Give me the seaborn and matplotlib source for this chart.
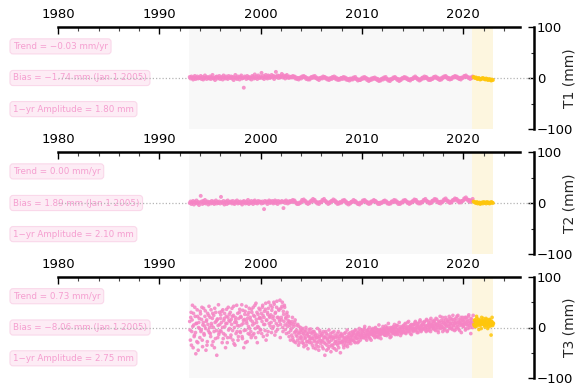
import numpy as np
import pandas as pd
import matplotlib
matplotlib.use("Agg")
import matplotlib.pyplot as plt
from matplotlib.ticker import FixedLocator
import seaborn as sns

# ---------------------------------------------------------------------------
# Data: anomaly samples (mm) for three tide-gauge comparisons
# ---------------------------------------------------------------------------
series_names = ["T1", "T2", "T3"]
trends = [-0.03, 0.00, 0.73]          # mm/yr
biases = [-1.74, 1.89, -8.06]         # mm at Jan 1 2005
amplitudes = [1.80, 2.10, 2.75]       # 1-yr amplitude, mm

start_year = 1993.0
new_mission_year = 2021.0             # samples from here on are the new mission

t1_per_year = 12
t1_values = [
    2, -1, 3, 0, -3, 1, 4, -2, 0, 3, -1, 1,
    0, 4, -2, 2, -3, 0, 5, 1, -2, 2, 0, -1,
    3, -2, 1, 6, -1, 0, -4, 2, 3, -1, 1, 4,
    -2, 0, 2, -3, 5, 1, -1, 3, 0, -2, 4, 1,
    0, 3, -1, 2, -4, 1, 6, 0, -2, 3, 1, -3,
    2, 5, -1, 0, -19, 3, 1, -2, 4, 0, 2, -1,
    1, -3, 4, 2, -1, 7, 0, 3, -2, 5, 1, 0,
    3, 10, 0, 4, -2, 2, 6, 1, -1, 5, 3, 0,
    2, 6, 1, 4, -2, 3, 12, 2, 5, 0, 4, 1,
    3, 8, 1, 5, 2, -1, 4, 6, 2, 0, 3, 1,
    2, 1, 4, 2, 3, -1, 1, -2, 0, -3, 0, 1,
    -1, 3, 2, 4, 1, 2, -2, 0, -3, -1, -3, 0,
    2, 0, 3, 1, 4, 0, 1, -2, -1, -4, 0, -1,
    1, -1, 3, 1, 2, -1, 0, -3, -1, -4, -1, 0,
    -2, 2, 0, 3, -1, 1, -3, -1, -4, -2, -3, 0,
    0, -2, 2, 0, 1, -3, -1, -4, -2, -5, -1, -3,
    -1, -3, 1, -1, 2, -2, -2, -5, -3, -4, -4, -1,
    -2, 1, -1, 2, -1, 0, -4, -2, -6, -3, -4, -1,
    -3, 0, -1, 1, -2, -1, -4, -2, -6, -4, -5, -2,
    -1, -3, 1, -1, 2, -2, -2, -5, -3, -6, -2, -3,
    -2, 1, 0, 2, -1, -1, -4, -2, -6, -3, -4, -1,
    0, -1, 2, 0, 1, -2, -1, -4, -3, -5, -2, -2,
    -2, 1, 0, 3, 0, 0, -3, -2, -5, -3, -3, 0,
    1, -1, 3, 0, 2, -1, -1, -4, -2, -4, -1, -2,
    -1, 2, 1, 3, 0, 1, -2, -1, -4, -1, -3, 1,
    0, 3, 2, 4, 1, 1, -2, 0, -3, -1, -2, 1,
    2, 1, 4, 2, 3, 0, 1, -2, 0, -3, 1, 0,
    1, 4, 3, 5, 2, 2, 0, 1, -2, 1, 0, 3,
    2, 1, 0, 1, -1, -2, 0, -1, -3, -2, -1, 0,
    -1, -2, -3, -1, -2, -4, -3, -2, -4, -5, -3, -4,
]

t2_per_year = 12
t2_values = [
    0, 3, -2, 1, 4, -3, 2, 0, 5, -1, 2, -4,
    1, 14, 3, -2, 4, 0, 6, -1, 2, 3, -3, 1,
    2, -1, 4, 0, 3, -2, 1, 5, -1, 2, 0, 3,
    -1, 12, 2, 0, 4, -3, 1, 3, -2, 5, 0, 2,
    1, 3, -1, 4, 0, -2, 3, 1, 5, -1, 2, 0,
    3, 0, -3, 2, 4, 1, -1, 3, 0, 6, -2, 2,
    0, 4, 1, -2, 3, 5, 0, 2, -1, 4, 1, 3,
    2, -1, 3, 0, -12, 4, 1, 3, -2, 2, 5, 0,
    3, 1, 4, -1, 2, 5, 0, 3, -2, 4, 1, 2,
    1, 4, 2, -10, 3, 0, 5, 2, -1, 3, 1, 4,
    3, 2, 6, 4, 5, 1, 1, -2, -1, -2, 1, 0,
    2, 6, 4, 7, 4, 4, 0, 1, -2, 1, 0, 3,
    5, 3, 8, 5, 6, 2, 2, -1, 1, -2, 2, 1,
    2, 6, 5, 8, 4, 4, 1, 1, -2, 1, 0, 3,
    4, 4, 7, 4, 5, 1, 2, -2, 0, -1, 2, 1,
    1, 5, 4, 6, 3, 3, -1, 0, -3, 0, -1, 2,
    3, 2, 6, 3, 4, 1, 1, -2, -1, -3, 1, 0,
    1, 5, 4, 6, 3, 3, 0, 1, -2, 1, -1, 3,
    3, 3, 6, 4, 4, 1, 1, -2, 0, -2, 1, 0,
    1, 3, 4, 5, 2, 3, -1, 0, -2, 0, -1, 3,
    3, 2, 6, 3, 5, 1, 2, -2, 0, -2, 1, 1,
    1, 5, 4, 6, 3, 3, 0, 1, -2, 1, 0, 2,
    4, 3, 7, 5, 6, 1, 2, -1, 1, -1, 2, 1,
    3, 6, 5, 8, 4, 4, 1, 2, -1, 1, 0, 4,
    5, 4, 8, 6, 7, 2, 3, 0, 2, -1, 3, 2,
    3, 7, 6, 9, 5, 5, 2, 3, 0, 2, 1, 5,
    6, 5, 9, 7, 8, 4, 5, 1, 3, 1, 4, 4,
    5, 9, 8, 11, 7, 7, 4, 6, 2, 5, 4, 8,
    3, 2, 1, 0, 2, -1, 0, 1, -2, 0, 1, -1,
    2, 0, 1, -1, 2, 0, 1, -1, 0, 2, 1, 0,
]

# T3 comes from two interleaved passes, each 15 samples per year
t3_per_year = 15
t3_pass_a = [
    12, -25, 30, -8, 44, -40, 5, -15, 22, -52, 8, 35, -30, 0, 18,
    -20, 27, -5, 40, -38, 10, -12, 3, 33, -45, 15, -28, 6, 24, -10,
    20, -18, 8, -35, 28, 0, -8, 38, -22, 12, -55, 17, 4, -14, 30,
    -6, 25, 10, -30, 35, -12, 18, 2, -40, 22, 8, -20, 40, 14, -2,
    30, -15, 6, 22, -25, 42, 0, -35, 15, 10, -8, 28, -18, 3, 36,
    -10, 20, 45, -22, 8, -40, 16, 32, -5, 12, -28, 25, 2, 38, -14,
    15, -20, 30, 5, 40, -12, 22, -2, 48, 10, -30, 26, 0, 18, 35,
    -5, 28, 12, 44, -18, 20, 6, 36, -25, 15, 30, -8, 50, 22, 3,
    25, -10, 40, 18, 2, 46, -15, 30, 8, 52, -4, 20, 34, 12, -20,
    38, 15, 50, -8, 26, 44, 5, 18, -12, 30, 2, 22, -18, 10, -25,
    8, -15, 20, -25, 2, -10, 15, -30, -5, -18, 6, -35, -12, -22, 0,
    -20, -5, -30, -12, -38, -8, -22, 0, -28, -15, -42, -10, -25, -18, -3,
    -30, -12, -22, -40, -8, -25, -15, -35, -20, -2, -28, -45, -18, -10, -32,
    -15, -38, -25, -8, -30, -55, -20, -12, -35, -22, -42, -5, -28, -18, -48,
    -25, -10, -40, -20, -32, -15, -28, -45, -18, -35, -8, -30, -22, -50, -12,
    -30, -18, -25, -40, -12, -22, -35, -28, -5, -20, -32, -15, -26, -10, -24,
    -18, -8, -25, -12, -20, -30, -5, -15, -22, -10, -28, -2, -16, -12, -20,
    -15, -5, -20, -8, 2, -18, -12, -25, -6, -10, -15, 0, -22, -8, -12,
    -12, -2, -15, -8, -20, 0, -10, -5, -18, -8, 5, -14, -6, -22, -3,
    -8, 2, -12, -5, -15, 3, -2, -10, -6, 8, -14, -4, 0, -18, -8,
    0, -10, -4, 6, -14, -2, -8, 4, -12, -5, 10, -6, -16, -1, -9,
    -5, 4, -10, 0, 8, -12, -3, 2, -8, 12, -6, -1, 5, -14, -2,
    3, -8, 6, -2, 12, -5, 0, 8, -10, 2, -4, 15, -6, 5, -1,
    -4, 6, 10, -2, 3, -8, 14, 0, 5, -6, 8, 2, 18, -3, 4,
    8, -2, 12, 3, -6, 6, 16, 0, -10, 10, 4, -1, 14, 2, 20,
    0, 10, -5, 6, 15, 2, -8, 12, 5, 22, -2, 8, 1, 16, -4,
    12, 3, -6, 9, 18, 0, 6, 24, -3, 10, 4, 14, -10, 7, 20,
    2, 15, 8, -5, 20, 6, 12, -2, 25, 4, 10, -12, 16, 9, 0,
    10, 4, 15, 8, 2, 18, 6, 12, -4, 9, 14, 5, 20, 7, 11,
    6, 13, 1, 9, 16, 4, -2, 10, 8, 15, 3, -15, 12, 6, 9,
]
t3_pass_b = [
    -5, 20, -35, 15, 2, 28, -18, 40, -10, 8, -28, 22, -45, 10, -2,
    32, -8, 16, -25, 5, 38, -15, 22, -2, 12, -35, 28, -6, 42, 0,
    -12, 35, 4, 18, -28, 24, -40, 10, 30, -6, 15, -20, 45, -10, 6,
    18, -8, 32, 0, -22, 14, 28, -15, 8, 36, -30, 20, -5, 26, 12,
    -20, 16, 38, -6, 24, -32, 10, 20, -12, 44, 4, -25, 18, 30, -8,
    22, 5, -18, 34, 14, -6, 26, -30, 42, 8, 18, -12, 30, -2, 20,
    -8, 36, 12, -15, 24, 8, 44, -20, 16, 30, 2, -10, 38, 20, -4,
    18, -12, 40, 24, 6, 32, -6, 48, 14, -15, 26, 38, 8, 20, 44,
    10, 34, -2, 22, 50, 14, 28, -8, 40, 20, 4, 36, 16, 54, 6,
    20, 42, 0, 32, 12, 40, -4, 20, 26, 8, 14, -10, 12, 4, -6,
    -2, 12, -20, 6, -28, 10, -8, -15, 4, -25, -10, 2, -30, -6, -18,
    -10, -25, -2, -32, -15, -20, -6, -35, -12, -28, -18, -4, -30, -22, -10,
    -22, -35, -8, -18, -28, -12, -42, -20, -30, -15, -38, -22, -6, -26, -16,
    -28, -12, -42, -20, -18, -32, -8, -45, -25, -15, -30, -38, -20, -12, -35,
    -18, -35, -22, -8, -42, -28, -20, -32, -12, -25, -40, -18, -30, -15, -28,
    -15, -28, -35, -20, -30, -10, -25, -18, -38, -22, -12, -28, -20, -32, -16,
    -25, -14, -10, -28, -6, -18, -22, -12, -30, -15, -8, -20, -25, -5, -14,
    -8, -20, -12, -2, -16, -22, -6, -14, -18, -4, -20, -10, -14, -25, -5,
    -5, -16, -8, -12, -2, -18, -14, -6, -10, -20, -4, -12, -15, -8, -10,
    -12, -6, -2, -15, -8, -10, -16, 0, -12, -4, -8, -20, -6, -2, -12,
    -6, 2, -12, -8, 0, -10, 4, -14, -6, -2, -8, 2, -10, -12, 0,
    2, -8, -4, 6, -10, 0, -6, 10, -4, -8, 2, -12, 0, 6, -6,
    -4, 6, -2, 10, -6, 4, -10, 2, 8, -2, 12, 0, -8, 4, 10,
    6, -2, 12, 2, -6, 16, 4, -4, 10, 0, 14, -8, 6, 2, 12,
    2, 14, -4, 8, 18, 0, 6, -6, 12, 4, 22, -2, 10, 6, -8,
    14, -2, 8, 20, 4, 10, -6, 16, 2, 12, 6, 18, -2, 8, 24,
    4, 16, 8, -4, 12, 22, 2, 10, 16, -6, 8, 20, 6, 14, 2,
    12, 6, 20, -2, 10, 16, 4, 22, 8, 14, 0, 18, 6, 10, 24,
    6, 14, 2, 12, 22, 8, 10, 16, 4, 12, 8, -2, 14, 10, 18,
    12, 4, 10, 18, 6, 14, 8, 2, 16, 10, 6, 12, 20, 4, 8,
]


def sample_years(n, per_year, offset=0.0):
    return start_year + (np.arange(n) + offset) / per_year


def build_frame(years, values):
    years = np.asarray(years)
    return pd.DataFrame({
        "year": years,
        "value": values,
        "mission": np.where(years >= new_mission_year, "new", "old"),
    })


frames = [
    build_frame(sample_years(len(t1_values), t1_per_year), t1_values),
    build_frame(sample_years(len(t2_values), t2_per_year), t2_values),
    pd.concat([
        build_frame(sample_years(len(t3_pass_a), t3_per_year), t3_pass_a),
        build_frame(sample_years(len(t3_pass_b), t3_per_year, 0.5), t3_pass_b),
    ], ignore_index=True),
]
marker_sizes = [8, 8, 7]

# ---------------------------------------------------------------------------
# Style
# ---------------------------------------------------------------------------
sns.set_theme(style="white")
plt.rcParams["font.family"] = ["DejaVu Sans"]

PINK = "#f584c4"
GOLD = "#ffc60b"
TEXT_PINK = "#f59fd0"
BOX_FILL = "#fde6f2"
BOX_EDGE = "#f9cfe5"
GRAY_SPAN = "#f8f8f8"
GOLD_SPAN = "#fdf6df"

fig = plt.figure(figsize=(5.76, 3.85), dpi=100)

W, H = 576.0, 385.0
x_left, x_right = 58.0, 534.0
panel_rows = [(27.0, 129.0), (152.0, 254.0), (277.0, 378.0)]


def fmt(v):
    return f"{v:.2f}".replace("-", "\u2212")


for name, df, msize, trend, bias, amp, (ytop, ybot) in zip(
        series_names, frames, marker_sizes, trends, biases, amplitudes, panel_rows):
    ax = fig.add_axes([x_left / W, 1 - ybot / H, (x_right - x_left) / W, (ybot - ytop) / H])

    # background periods and zero reference line
    ax.axvspan(1992.9, 2020.85, color=GRAY_SPAN, lw=0, zorder=0)
    ax.axvspan(2020.85, 2022.9, color=GOLD_SPAN, lw=0, zorder=0)
    ax.axhline(0, color="#b5b5b5", lw=0.9, ls=(0, (1, 1.6)), zorder=1)

    sns.scatterplot(data=df, x="year", y="value", hue="mission",
                    palette={"old": PINK, "new": GOLD}, s=msize, linewidth=0,
                    alpha=0.85, legend=False, ax=ax, zorder=3)

    ax.set_xlim(1980, 2026.97)
    ax.set_ylim(-100, 100)
    ax.set_facecolor("white")
    ax.set_xlabel("")

    # spines: top axis for years, right axis for mm
    ax.spines["left"].set_visible(False)
    ax.spines["bottom"].set_visible(False)
    for side in ("top", "right"):
        ax.spines[side].set_visible(True)
        ax.spines[side].set_color("black")
        ax.spines[side].set_linewidth(1.8)
    ax.spines["top"].set_bounds(1980, 2025.6)

    ax.xaxis.tick_top()
    ax.xaxis.set_major_locator(FixedLocator([1980, 1990, 2000, 2010, 2020]))
    ax.xaxis.set_minor_locator(FixedLocator(np.arange(1982, 2025, 2)))
    ax.tick_params(axis="x", which="major", direction="in", length=5, width=1,
                   labelsize=9.5, pad=4, colors="black", top=True, bottom=False)
    ax.tick_params(axis="x", which="minor", direction="in", length=3, width=0.8,
                   top=True, bottom=False, colors="#444444")

    ax.yaxis.tick_right()
    ax.yaxis.set_label_position("right")
    ax.yaxis.set_major_locator(FixedLocator([-100, 0, 100]))
    ax.yaxis.set_minor_locator(FixedLocator([-50, 50]))
    ax.tick_params(axis="y", which="major", direction="in", length=4, width=1,
                   labelsize=9.5, pad=2, right=True, left=False, colors="black")
    ax.tick_params(axis="y", which="minor", direction="in", length=2.5, width=0.8,
                   right=True, left=False)
    ax.set_ylabel(f"{name} (mm)", fontsize=10, rotation=90)
    ax.yaxis.set_label_coords(1.06, 0.5)

    labels = [
        (0.81, f"Trend = {fmt(trend)} mm/yr"),
        (0.50, f"Bias = {fmt(bias)} mm (Jan 1 2005)"),
        (0.195, f"1\u2212yr Amplitude = {fmt(amp)} mm"),
    ]
    for ypos, txt in labels:
        ax.text(-0.0945, ypos, txt, transform=ax.transAxes, fontsize=6.3,
                color=TEXT_PINK, ha="left", va="center", clip_on=False, zorder=0.5,
                bbox=dict(boxstyle="round,pad=0.35,rounding_size=0.35",
                          fc=BOX_FILL, ec=BOX_EDGE, lw=0.8, alpha=0.75))

fig.savefig("out.png", dpi=100, facecolor="white")
